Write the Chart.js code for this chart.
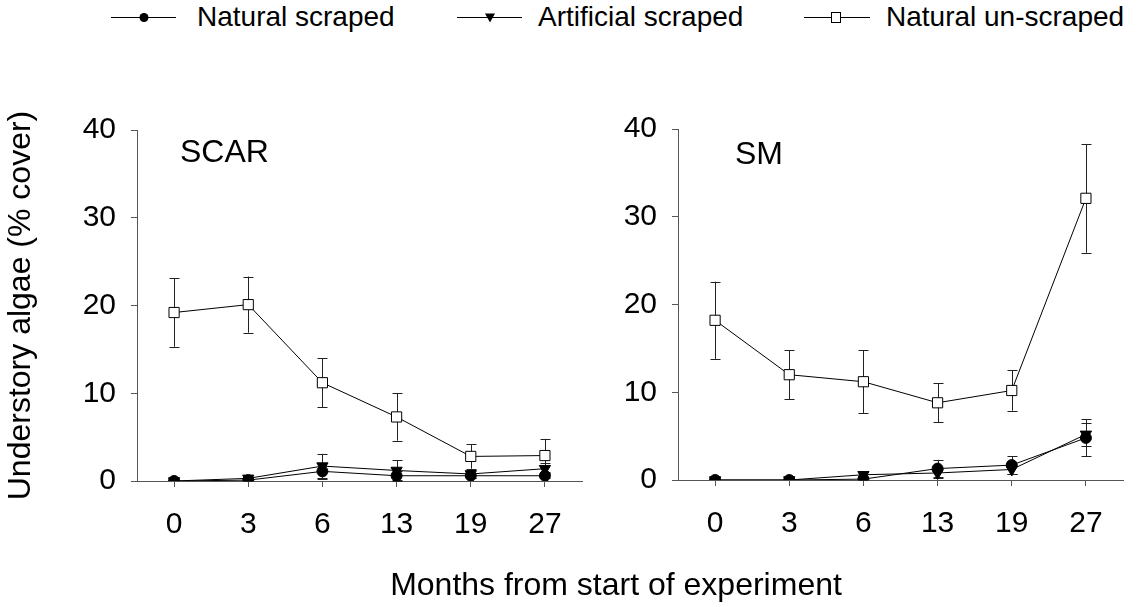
<!DOCTYPE html>
<html>
<head>
<meta charset="utf-8">
<script src="https://cdn.jsdelivr.net/npm/chart.js@4.4.1/dist/chart.umd.min.js"></script>
<style>
  html, body { margin:0; padding:0; background:#fff; }
  body { width:1141px; height:607px; position:relative; overflow:hidden; font-family:"Liberation Sans", Arial, sans-serif; color:#000; }
  .panel { position:absolute; top:0; width:600px; height:607px; }
  .leg { position:absolute; top:3px; font-size:28px; line-height:28px; white-space:nowrap; }
  #xtitle { position:absolute; left:316px; width:600px; top:568px; text-align:center; font-size:32px; line-height:32px; white-space:nowrap; }
</style>
</head>
<body>
<svg id="legsvg" width="1141" height="40" style="position:absolute;left:0;top:0"></svg>
<div class="leg" style="left:197px">Natural scraped</div>
<div class="leg" style="left:538px">Artificial scraped</div>
<div class="leg" style="left:886px">Natural un-scraped</div>
<div class="panel" style="left:0"><canvas id="c1" width="600" height="607"></canvas></div>
<div class="panel" style="left:541px"><canvas id="c2" width="600" height="607"></canvas></div>
<div id="xtitle">Months from start of experiment</div>
<script>
// ---- Data ----
const months = ['0', '3', '6', '13', '19', '27'];
const seriesNames = ['Natural scraped', 'Artificial scraped', 'Natural un-scraped'];

// SCAR panel
const scarNatScraped     = [0, 0.1, 1.1, 0.6, 0.6, 0.6];
const scarNatScrapedErr  = [0, 0.1, 0.9, 0.5, 0.3, 0.3];
const scarArtScraped     = [0, 0.3, 1.7, 1.2, 0.8, 1.4];
const scarArtScrapedErr  = [0, 0.2, 1.4, 1.2, 0.5, 0.6];
const scarNatUnscraped   = [19.2, 20.1, 11.2, 7.3, 2.8, 2.9];
const scarNatUnscrapedErr= [3.9, 3.2, 2.8, 2.7, 1.4, 1.9];

// SM panel
const smNatScraped       = [0, 0, 0.1, 1.3, 1.7, 4.8];
const smNatScrapedErr    = [0, 0, 0.1, 1.0, 1.0, 2.1];
const smArtScraped       = [0, 0, 0.6, 0.8, 1.2, 5.2];
const smArtScrapedErr    = [0, 0, 0.3, 0.6, 0.5, 1.3];
const smNatUnscraped     = [18.2, 12.0, 11.2, 8.8, 10.2, 32.1];
const smNatUnscrapedErr  = [4.4, 2.8, 3.6, 2.2, 2.3, 6.2];

const yMin = 0, yMax = 40, yStep = 10;
const yTitle = 'Understory algae (% cover)';

// ---- Legend glyphs ----
(function(){
  const svg = document.getElementById('legsvg');
  const ns = 'http://www.w3.org/2000/svg';
  function el(name, attrs){ const e = document.createElementNS(ns, name); for (const k in attrs) e.setAttribute(k, attrs[k]); svg.appendChild(e); return e; }
  const items = [
    {x1:111, x2:176, cx:144, kind:'circle'},
    {x1:457, x2:522, cx:490, kind:'tri'},
    {x1:804, x2:870, cx:836, kind:'rect'}
  ];
  const y = 17.5;
  items.forEach(it => {
    el('line', {x1:it.x1, y1:y, x2:it.x2, y2:y, stroke:'#000', 'stroke-width':1});
    if (it.kind === 'circle') el('circle', {cx:it.cx, cy:y, r:4.5, fill:'#000'});
    if (it.kind === 'tri') el('polygon', {points:`${it.cx-5},${y-4} ${it.cx+5},${y-4} ${it.cx},${y+5}`, fill:'#000'});
    if (it.kind === 'rect') el('rect', {x:it.cx-4.5, y:y-5, width:9, height:10, fill:'#fff', stroke:'#000', 'stroke-width':1});
  });
})();

// ---- Plugins ----
const errorBars = {
  id: 'errorBars',
  beforeDatasetsDraw(chart) {
    const {ctx, scales:{x, y}} = chart;
    ctx.save();
    ctx.strokeStyle = '#222';
    ctx.lineWidth = 1;
    chart.data.datasets.forEach(ds => {
      (ds.errors || []).forEach((e, i) => {
        if (!e) return;
        const v = ds.data[i];
        const px = Math.round(x.getPixelForValue(i)) + 0.5;
        const top = y.getPixelForValue(v + e);
        const bot = y.getPixelForValue(Math.max(v - e, 0));
        ctx.beginPath();
        ctx.moveTo(px, top); ctx.lineTo(px, bot);
        ctx.moveTo(px - 5, Math.round(top) + 0.5); ctx.lineTo(px + 5, Math.round(top) + 0.5);
        ctx.moveTo(px - 5, Math.round(bot) + 0.5); ctx.lineTo(px + 5, Math.round(bot) + 0.5);
        ctx.stroke();
      });
    });
    ctx.restore();
  }
};
const panelLabel = {
  id: 'panelLabel',
  afterDraw(chart, args, opts) {
    const {ctx, chartArea} = chart;
    ctx.save();
    ctx.font = '32px "Liberation Sans", Arial, sans-serif';
    ctx.fillStyle = '#000';
    ctx.textBaseline = 'alphabetic';
    ctx.fillText(opts.text, chartArea.left + opts.dx, chartArea.top + opts.dy);
    ctx.restore();
  }
};

function makeDatasets(nat, natErr, art, artErr, un, unErr) {
  const base = { borderColor:'#000', borderWidth:1, pointBorderColor:'#000', pointBorderWidth:1, tension:0, fill:false };
  return [
    Object.assign({}, base, { label: seriesNames[0], data: nat, errors: natErr, pointStyle:'circle', pointRadius:5.5, pointBackgroundColor:'#000' }),
    Object.assign({}, base, { label: seriesNames[1], data: art, errors: artErr, pointStyle:'triangle', pointRotation:180, pointRadius:6.5, pointBackgroundColor:'#000' }),
    Object.assign({}, base, { label: seriesNames[2], data: un, errors: unErr, pointStyle:'rect', pointRadius:7.2, pointBackgroundColor:'#fff' })
  ];
}

function makePanel(id, datasets, o) {
  const axisColor = '#555';
  return new Chart(document.getElementById(id), {
    type: 'line',
    data: { labels: months, datasets },
    plugins: [errorBars, panelLabel],
    options: {
      responsive: false,
      devicePixelRatio: 1,
      animation: false,
      events: [],
      layout: { padding: { top: o.top, right: 18, bottom: 0, left: 0 } },
      plugins: {
        legend: { display: false },
        tooltip: { enabled: false },
        panelLabel: { text: o.label, dx: o.dx, dy: o.dy }
      },
      scales: {
        x: {
          type: 'category',
          offset: true,
          grid: { offset: false, drawOnChartArea: false, drawTicks: true, tickLength: 6, color: axisColor, lineWidth: 1 },
          border: { display: true, color: axisColor, width: 1 },
          ticks: { color: '#000', padding: 20, maxRotation: 0, autoSkip: false,
                   font: { family: '"Liberation Sans", Arial, sans-serif', size: 30 } },
          afterFit: s => { s.height = o.xh; }
        },
        y: {
          min: yMin, max: yMax,
          grid: { drawOnChartArea: false, drawTicks: true, tickLength: 6, color: axisColor, lineWidth: 1 },
          border: { display: true, color: axisColor, width: 1 },
          ticks: { stepSize: yStep, color: '#000', padding: 15,
                   font: { family: '"Liberation Sans", Arial, sans-serif', size: 30 } },
          title: { display: o.showTitle, text: yTitle, color: '#000', padding: { top: 2, bottom: 0 },
                   font: { family: '"Liberation Sans", Arial, sans-serif', size: 32, lineHeight: 1.2 } },
          afterFit: s => { s.width = 137; }
        }
      }
    }
  });
}

makePanel('c1', makeDatasets(scarNatScraped, scarNatScrapedErr, scarArtScraped, scarArtScrapedErr, scarNatUnscraped, scarNatUnscrapedErr),
  { top: 130, xh: 126, showTitle: true, label: 'SCAR', dx: 43, dy: 32 });
makePanel('c2', makeDatasets(smNatScraped, smNatScrapedErr, smArtScraped, smArtScrapedErr, smNatUnscraped, smNatUnscrapedErr),
  { top: 129, xh: 127, showTitle: false, label: 'SM', dx: 57, dy: 35 });
</script>
</body>
</html>
